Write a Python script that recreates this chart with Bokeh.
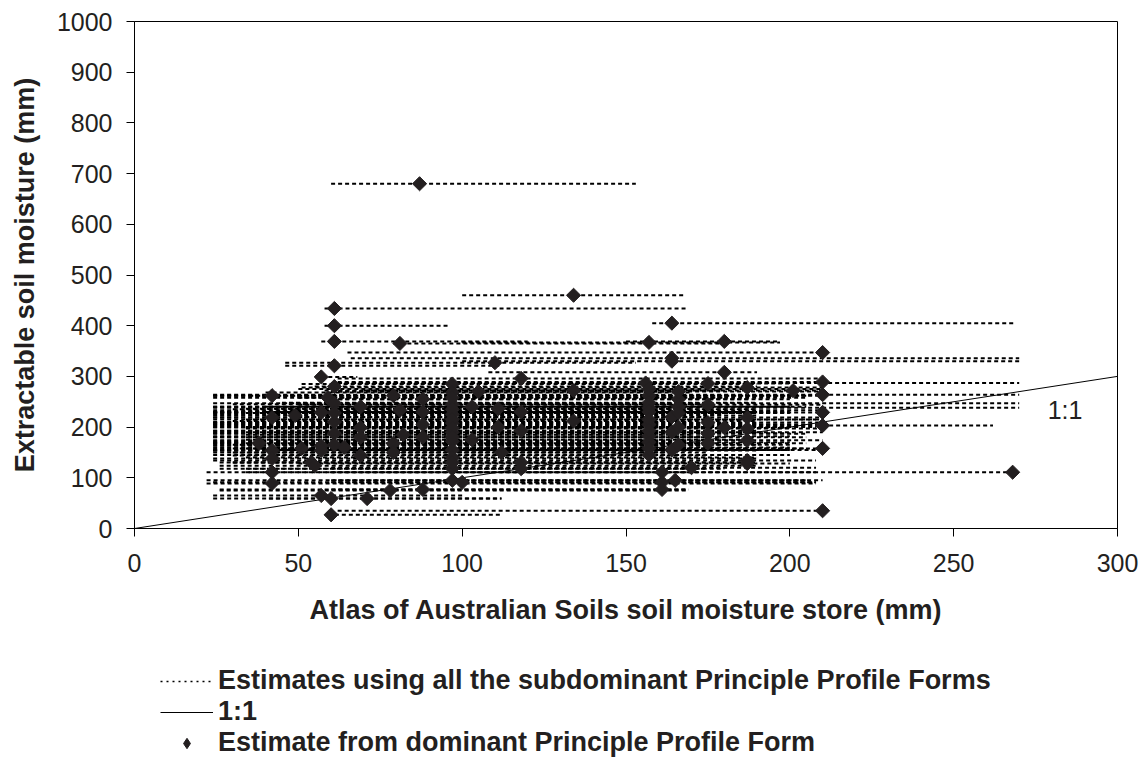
from bokeh.plotting import figure
from bokeh.layouts import column
from bokeh.models import Range1d, FixedTicker, Legend, LegendItem, Label, ColumnDataSource
from bokeh.embed import file_html
from bokeh.resources import INLINE

# Dominant Principle Profile Form estimate (x = Atlas store, y = extractable moisture)
dom_x = [87, 134, 61, 164, 61, 61, 81, 157, 180, 210, 164, 164, 110, 61, 180, 57, 118, 210, 156, 175,
         97, 187, 201, 61, 210, 42, 79, 97, 105, 134, 157, 88, 59, 166, 61, 97, 157, 103, 175, 69,
         111, 157, 210, 187, 42, 49, 57, 81, 97, 118, 164, 134, 175, 210, 61, 88, 97, 111, 157, 180,
         187, 69, 164, 175, 97, 82, 118, 61, 157, 69, 103, 187, 175, 38, 79, 97, 157, 57, 64, 51,
         210, 42, 57, 97, 112, 164, 79, 69, 157, 97, 42, 187, 54, 118, 187, 55, 170, 97, 118, 42,
         161, 268, 97, 165, 42, 100, 161, 88, 161, 78, 57, 71, 60, 60, 210,
         97, 97, 97, 97, 97, 97, 157, 157, 157, 157, 157, 166, 166, 166, 166, 166, 88, 88, 61, 61]
dom_y = [680, 460, 434, 405, 400, 369, 365, 367, 369, 347, 336, 330, 327, 321, 308, 299, 296, 289, 287, 286,
         285, 278, 272, 280, 264, 262, 262, 268, 270, 272, 262, 255, 258, 255, 247, 245, 238, 240, 244, 240,
         236, 248, 229, 219, 219, 223, 229, 233, 225, 230, 220, 212, 209, 203, 210, 205, 208, 200, 205, 199,
         197, 199, 190, 187, 190, 185, 193, 188, 182, 180, 175, 174, 168, 168, 168, 172, 170, 163, 160, 158,
         158, 154, 154, 155, 150, 155, 150, 144, 145, 140, 138, 134, 130, 130, 128, 124, 120, 118, 118, 111,
         111, 111, 95, 95, 89, 91, 91, 77, 77, 75, 65, 59, 59, 27, 35,
         258, 235, 215, 198, 180, 130, 275, 230, 215, 193, 158, 270, 240, 228, 200, 165, 230, 180, 228, 165]
# Range of estimates using all the subdominant Principle Profile Forms
sub_lo = [60, 100, 58, 158, 58, 57, 79, 100, 150, 65, 66, 100, 46, 46, 108, 57, 62, 62, 60, 64,
          51, 51, 70, 55, 24, 24, 35, 40, 60, 58, 24, 58, 50, 60, 24, 30, 24, 40, 50, 24,
          34, 45, 24, 24, 24, 24, 24, 24, 24, 40, 50, 30, 24, 24, 24, 24, 24, 34, 24, 60,
          34, 24, 34, 24, 24, 34, 24, 24, 24, 24, 34, 24, 34, 24, 24, 24, 24, 24, 24, 24,
          34, 24, 24, 24, 30, 40, 24, 30, 24, 34, 24, 24, 26, 30, 50, 26, 60, 26, 34, 22,
          34, 60, 22, 60, 22, 24, 60, 26, 60, 26, 24, 24, 41, 59, 62,
          24, 30, 24, 34, 24, 30, 50, 24, 34, 24, 30, 60, 24, 34, 24, 30, 24, 34, 24, 24]
sub_hi = [153, 168, 169, 269, 96, 120, 180, 197, 197, 210, 270, 270, 153, 112, 190, 68, 210, 210, 270, 200,
          190, 210, 210, 190, 270, 200, 205, 170, 165, 180, 210, 200, 180, 188, 270, 175, 270, 205, 210, 165,
          170, 190, 210, 210, 165, 190, 200, 210, 180, 190, 175, 190, 210, 262, 170, 200, 190, 175, 210, 200,
          210, 175, 210, 205, 190, 170, 180, 200, 200, 175, 190, 210, 205, 160, 175, 170, 200, 175, 200, 170,
          210, 170, 190, 200, 175, 210, 165, 175, 200, 190, 190, 208, 170, 190, 200, 190, 208, 180, 175, 170,
          208, 269, 205, 210, 208, 208, 208, 169, 169, 169, 100, 112, 112, 112, 210,
          205, 190, 210, 200, 175, 190, 210, 200, 208, 190, 205, 210, 200, 190, 208, 200, 190, 205, 200, 190]

one_to_one_x = [0, 300]
one_to_one_y = [0, 300]

x_ticks = [0, 50, 100, 150, 200, 250, 300]
y_ticks = [0, 100, 200, 300, 400, 500, 600, 700, 800, 900, 1000]

legend_labels = ["Estimates using all the subdominant Principle Profile Forms",
                 "1:1",
                 "Estimate from dominant Principle Profile Form"]

FONT = "Liberation Sans"
INK = "#231f20"
DASH = "4 3"

p = figure(width=1142, height=650, output_backend="svg", toolbar_location=None,
           x_range=Range1d(0, 300), y_range=Range1d(0, 1000),
           min_border_left=134, min_border_right=25, min_border_top=21, min_border_bottom=122)
p.xgrid.visible = False
p.ygrid.visible = False
p.outline_line_color = "black"
p.outline_line_width = 1

src = ColumnDataSource(dict(x=dom_x, y=dom_y, lo=sub_lo, hi=sub_hi))

p.segment(x0="lo", y0="y", x1="hi", y1="y", source=src,
          line_color="black", line_width=2, line_dash=DASH)
p.line(one_to_one_x, one_to_one_y, line_color="black", line_width=1)
p.scatter(x="x", y="y", source=src, marker="square", angle=0.785398, size=10,
          fill_color=INK, line_color=INK)

for ax, ticks in ((p.xaxis[0], x_ticks), (p.yaxis[0], y_ticks)):
    ax.ticker = FixedTicker(ticks=ticks)
    ax.minor_tick_line_color = None
    ax.major_tick_in = 0
    ax.major_tick_out = 8
    ax.axis_line_color = "black"
    ax.major_tick_line_color = "black"
    ax.major_label_text_font = FONT
    ax.major_label_text_font_size = "25px"
    ax.major_label_text_color = INK
    ax.axis_label_text_font = FONT
    ax.axis_label_text_font_size = "27px"
    ax.axis_label_text_font_style = "bold"
    ax.axis_label_text_color = INK

p.xaxis.axis_label = "Atlas of Australian Soils soil moisture store (mm)"
p.yaxis.axis_label = "Extractable soil moisture (mm)"
p.xaxis.major_label_standoff = 17
p.xaxis.axis_label_standoff = 20
p.yaxis.major_label_standoff = 14
p.yaxis.axis_label_standoff = 14

p.add_layout(Label(x=284, y=233, text="1:1", text_font=FONT, text_font_size="25px",
                   text_align="center", text_baseline="middle", text_color=INK))

# Legend strip under the chart (its sample glyphs sit outside the visible range)
pl = figure(width=1142, height=121, output_backend="svg", toolbar_location=None,
            x_range=Range1d(0, 1), y_range=Range1d(0, 1),
            min_border_left=0, min_border_right=0, min_border_top=0, min_border_bottom=0)
pl.axis.visible = False
pl.grid.visible = False
pl.outline_line_color = None
hidden = ColumnDataSource(dict(x=[-3.0, -2.5], y=[-3.0, -3.0], x1=[-2.0, -2.0]))
r_seg = pl.segment(x0="x", y0="y", x1="x1", y1="y", source=hidden,
                   line_color="black", line_width=1.5, line_dash="2 4")
r_line = pl.line(x="x", y="y", source=hidden, line_color="black", line_width=1)
r_dot = pl.scatter(x="x", y="y", source=hidden, marker="diamond", size=13,
                   fill_color=INK, line_color=INK)

legend = Legend(items=[
    LegendItem(label=legend_labels[0], renderers=[r_seg], index=0),
    LegendItem(label=legend_labels[1], renderers=[r_line], index=0),
    LegendItem(label=legend_labels[2], renderers=[r_dot], index=0),
], location=(26, 13), orientation="vertical")
legend.padding = 0
legend.margin = 0
legend.spacing = 0
legend.glyph_width = 53
legend.glyph_height = 26
legend.label_height = 26
legend.label_standoff = 5
legend.label_text_font = FONT
legend.label_text_font_size = "27px"
legend.label_text_font_style = "bold"
legend.label_text_color = INK
legend.border_line_alpha = 0
legend.background_fill_alpha = 0
pl.add_layout(legend)

open("out.html", "w").write(file_html(column(p, pl, spacing=0), INLINE))
